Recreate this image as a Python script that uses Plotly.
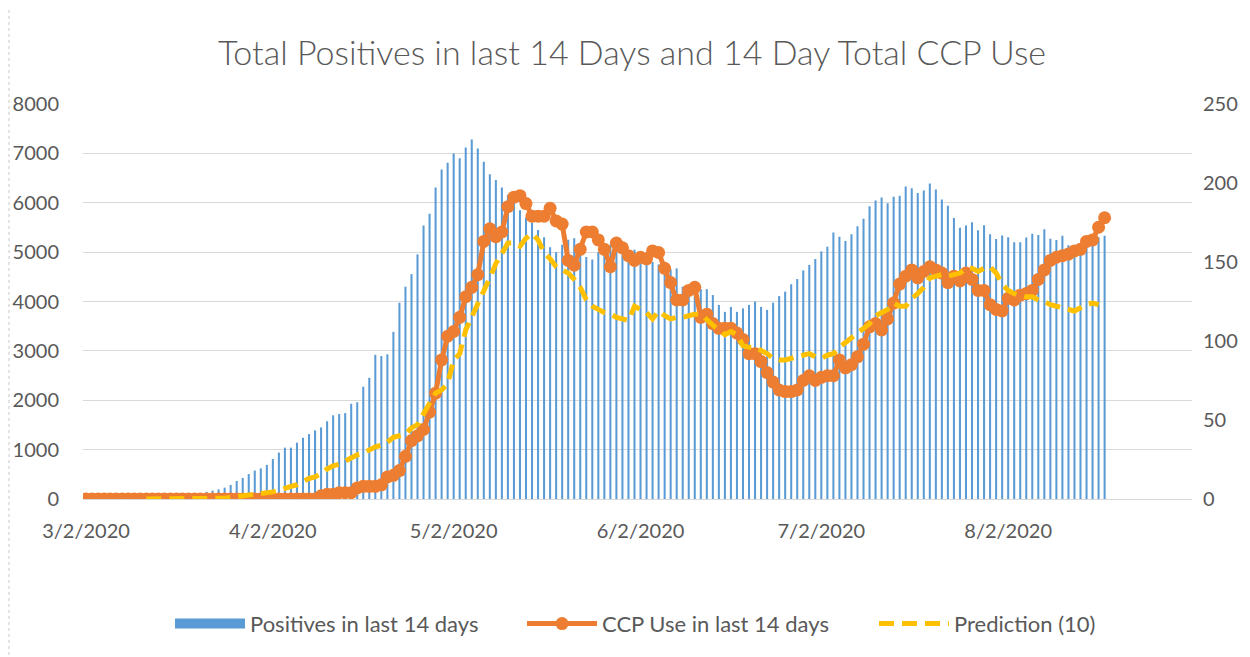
import datetime as dt
import pandas as pd
import plotly.graph_objects as go

# ---- data (daily, starting 3/2/2020) ----
start_date = "2020-03-02"

positives_14d = [
    0, 0, 0, 0, 0, 1, 1, 2, 2, 3,
    4, 6, 10, 15, 25, 40, 55, 75, 95, 120,
    145, 170, 195, 230, 285, 365, 425, 505, 575, 620,
    690, 810, 940, 1040, 1040, 1140, 1240, 1315, 1390, 1450,
    1575, 1695, 1720, 1740, 1930, 1960, 2275, 2455, 2920, 2895,
    2930, 3385, 3975, 4300, 4555, 4955, 5540, 5775, 6310, 6675,
    6810, 7000, 6900, 7120, 7280, 7100, 6830, 6575, 6460, 6310,
    6160, 6000, 5850, 5700, 5600, 5450, 5300, 5100, 5000, 5150,
    5250, 5280, 5180, 4900, 4850, 5000, 5100, 5150, 5050, 5000,
    4950, 5050, 5000, 4900, 4800, 4750, 4700, 4650, 4670, 4300,
    4250, 4200, 4250, 4250, 4130, 3930, 3790, 3890, 3790, 3860,
    3930, 4000, 3890, 3830, 3975, 4110, 4200, 4350, 4455, 4630,
    4740, 4860, 5015, 5110, 5400, 5310, 5225, 5360, 5525, 5675,
    5930, 6045, 6105, 5990, 6120, 6140, 6330, 6295, 6200, 6250,
    6390, 6270, 6065, 5940, 5690, 5495, 5540, 5605, 5445, 5545,
    5360, 5265, 5335, 5300, 5200, 5200, 5295, 5370, 5345, 5465,
    5270, 5245, 5330, 5140, 5110, 5150, 5200, 5250, 5300, 5330,
]

ccp_use_14d = [
    0, 0, 0, 0, 0, 0, 0, 0, 0, 0,
    0, 0, 0, 0, 0, 0, 0, 0, 0, 0,
    0, 0, 0, 0, 0, 0, 0, 0, 0, 0,
    0, 0, 0, 0, 0, 0, 0, 0, 0, 2,
    3, 3, 4, 4, 4, 7, 8, 8, 8, 9,
    14, 15, 18, 27, 37, 40, 44, 55, 67, 88,
    103, 106, 115, 128, 134, 142, 163, 171, 166, 169,
    185, 191, 192, 187, 179, 179, 179, 184, 176, 174,
    151, 148, 158, 169, 169, 164, 158, 147, 162, 159,
    154, 151, 153, 152, 157, 156, 146, 137, 126, 126,
    132, 134, 115, 117, 111, 108, 108, 108, 105, 101,
    92, 92, 87, 80, 74, 69, 68, 68, 69, 75,
    78, 75, 77, 78, 78, 88, 83, 85, 90, 98,
    109, 111, 107, 114, 124, 136, 141, 145, 140, 144,
    147, 145, 143, 137, 141, 138, 143, 139, 132, 132,
    123, 120, 119, 127, 126, 129, 130, 132, 139, 145,
    151, 153, 154, 155, 157, 158, 163, 164, 172, 178,
]

prediction_start = "2020-03-12"
prediction_10 = [
    0, 0, 0, 0, 0, 0, 0, 0, 0, 0,
    0, 0, 0, 0.5, 1, 1.5, 1.5, 2, 2.5, 3,
    3.6, 4.5, 5.5, 7, 8, 9, 11, 13, 14, 16,
    19, 21, 22, 24, 26, 28, 29, 31, 33, 34,
    36, 39, 40, 41, 45, 47, 54, 61, 67, 69,
    73, 88, 92, 107, 115, 124, 132, 140, 149, 156,
    162, 162, 160, 165, 168, 164, 156, 152, 147, 145,
    143, 139, 134, 126, 122, 120, 118, 117, 115, 114,
    113, 122, 120, 118, 114, 119, 116, 114, 115, 115,
    116, 117, 117, 113, 110, 107, 104, 106, 104, 97,
    96, 96, 94, 92, 89, 88, 88, 89, 90, 91,
    92, 90, 89, 91, 92, 96, 99, 102, 106, 109,
    111, 116, 118, 120, 124, 122, 122, 127, 130, 134,
    140, 141, 142, 141, 142, 143, 146, 146, 144, 146,
    147, 143, 136, 132, 130, 129, 128, 128, 126, 125,
    123, 122, 121, 120, 119, 121, 123, 124, 123,
]

tick_dates = ["2020-03-02", "2020-04-02", "2020-05-02", "2020-06-02", "2020-07-02", "2020-08-02"]
tick_labels = ["3/2/2020", "4/2/2020", "5/2/2020", "6/2/2020", "7/2/2020", "8/2/2020"]

dates = pd.date_range(start_date, periods=len(positives_14d), freq="D")
pred_dates = pd.date_range(prediction_start, periods=len(prediction_10), freq="D")

FONT = "Lato"
TXT = "#595959"
GRID = "#D9D9D9"
BLUE = "#5B9BD5"

# page has an 8px body margin: figure is sized/positioned to compensate
W, H = 1242, 649
L, T, R, B = 75, 96, 58, 158

fig = go.Figure()
fig.add_trace(go.Bar(
    x=dates, y=positives_14d, name="Positives in last 14 days",
    marker=dict(color=BLUE, line=dict(width=0)),
    width=0.34 * 86400000, yaxis="y", showlegend=False,
))
# legend swatch for the bars (wide rectangle like the original)
fig.add_trace(go.Scatter(
    x=[None], y=[None], name="Positives in last 14 days", mode="lines",
    line=dict(color=BLUE, width=12), yaxis="y",
))
fig.add_trace(go.Scatter(
    x=dates, y=ccp_use_14d, name="CCP Use in last 14 days", mode="lines+markers",
    line=dict(color="#ED7D31", width=5),
    marker=dict(symbol="circle", size=13, color="#ED7D31"),
    yaxis="y2",
))
fig.add_trace(go.Scatter(
    x=pred_dates, y=prediction_10, name="Prediction (10)", mode="lines",
    line=dict(color="#FFC000", width=5, dash="15px,8px"),
    yaxis="y2",
))

fig.update_layout(
    width=W, height=H,
    margin=dict(l=L, r=R, t=T, b=B, autoexpand=False),
    paper_bgcolor="white", plot_bgcolor="white",
    font=dict(family=FONT, color=TXT, size=20),
    title=dict(text="Total Positives in last 14 Days and 14 Day Total CCP Use",
               x=624 / W, xanchor="center", y=1 - 45 / H, yanchor="middle",
               font=dict(family=FONT, size=34, color=TXT, weight=300)),
    showlegend=True,
    legend=dict(orientation="h", x=(162 - L) / 1109, xanchor="left", y=-0.316, yanchor="middle",
                font=dict(family=FONT, size=22, color=TXT),
                itemwidth=70,
                entrywidth=267, entrywidthmode="pixels", traceorder="normal"),
    xaxis=dict(type="date",
               range=[dt.datetime(2020, 3, 1, 12), dt.datetime(2020, 9, 1, 12)],
               tickmode="array", tickvals=tick_dates, ticktext=tick_labels,
               showgrid=False, zeroline=False, showline=True, linecolor=GRID, linewidth=1,
               ticks="", ticklabelstandoff=14, tickfont=dict(size=20, color=TXT)),
    yaxis=dict(range=[0, 8000], dtick=1000, tick0=0, showgrid=True, gridcolor=GRID,
               gridwidth=1, zeroline=False, showline=False, ticks="",
               ticklabelstandoff=23, tickfont=dict(size=20, color=TXT)),
    yaxis2=dict(range=[0, 250], dtick=50, tick0=0, overlaying="y", side="right",
                showgrid=False, zeroline=False, showline=False, ticks="",
                ticklabelstandoff=10, tickfont=dict(size=20, color=TXT)),
    shapes=[dict(type="line", xref="paper", yref="paper",
                 x0=(1 - L) / 1109, x1=(1 - L) / 1109,
                 y0=-(H - (H - B)) / 395 - 0.01, y1=(H - B) / 395 + 0.02,
                 line=dict(color="#C8C8C8", width=1, dash="dot"))],
)

fig.write_html("out.html")
